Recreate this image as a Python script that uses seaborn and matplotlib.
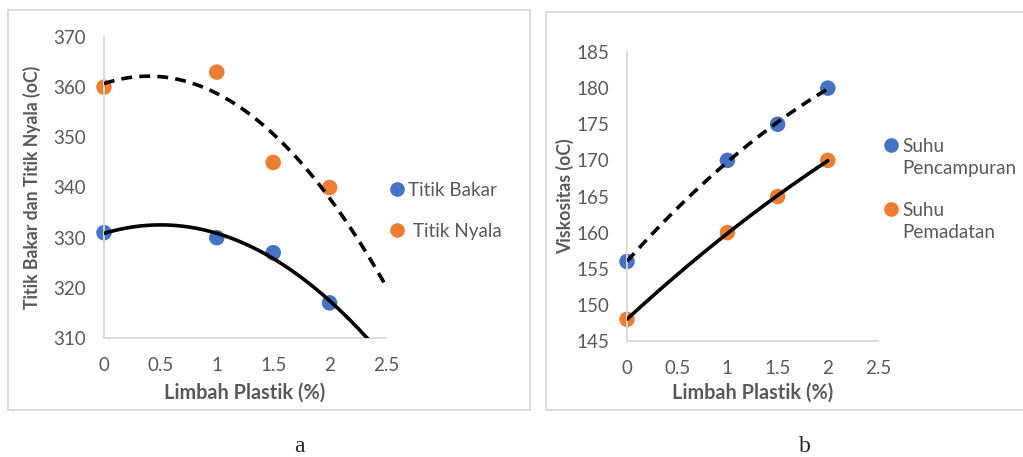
import numpy as np
import pandas as pd
import matplotlib
matplotlib.use('Agg')
import matplotlib.pyplot as plt
from matplotlib.patches import Rectangle
from matplotlib.lines import Line2D
import seaborn as sns

# Data
limbah = [0, 1, 1.5, 2]
titik_bakar = [331, 330, 327, 317]
titik_nyala = [360, 363, 345, 340]
suhu_pencampuran = [156, 170, 175, 180]
suhu_pemadatan = [148, 160, 165, 170]

x_ticks = [0, 0.5, 1, 1.5, 2, 2.5]
x_labels = ['0', '0.5', '1', '1.5', '2', '2.5']
y_ticks_a = [310, 320, 330, 340, 350, 360, 370]
y_ticks_b = [145, 150, 155, 160, 165, 170, 175, 180, 185]

BLUE = '#4472C4'
ORANGE = '#ED7D31'
GRID = '#D9D9D9'
TXT = '#595959'

sns.set_style('white')
plt.rcParams['font.family'] = ['Lato', 'DejaVu Sans']

W, H = 1023, 457
fig = plt.figure(figsize=(W / 100, H / 100), dpi=100)


def px_axes(x0, x1, y0, y1):
    # pixel box -> figure fraction
    return fig.add_axes([x0 / W, 1 - y1 / H, (x1 - x0) / W, (y1 - y0) / H])


# chart frames (Excel style)
for (x0, y0, x1, y1) in [(8, 10, 530, 410), (546, 12, 1030, 410)]:
    fig.patches.append(Rectangle((x0 / W, 1 - y1 / H), (x1 - x0) / W, (y1 - y0) / H,
                                 transform=fig.transFigure, fill=False,
                                 edgecolor=GRID, linewidth=1.3))


def style(ax, yticks, ylabel, ylab_x, xlab_y, ylab_size):
    ax.set_xlim(0, 2.5)
    ax.set_ylim(yticks[0], yticks[-1])
    ax.set_xticks(x_ticks)
    ax.set_xticklabels(x_labels)
    ax.set_yticks(yticks)
    ax.tick_params(axis='x', length=0, labelsize=13.5, labelcolor=TXT, pad=14)
    ax.tick_params(axis='y', length=0, labelsize=13.5, labelcolor=TXT, pad=13)
    for s in ['top', 'right']:
        ax.spines[s].set_visible(False)
    for s in ['left', 'bottom']:
        ax.spines[s].set_color(GRID)
        ax.spines[s].set_linewidth(1.3)
    ax.set_xlabel('Limbah Plastik (%)', fontsize=14.3, fontweight='bold', color=TXT)
    ax.set_ylabel(ylabel, fontsize=ylab_size, fontweight='bold', color=TXT)
    ax.xaxis.set_label_coords(0.5, xlab_y)
    ax.yaxis.set_label_coords(ylab_x, 0.5)
    ax.set_facecolor('none')
    if ax.get_legend() is not None:
        ax.get_legend().remove()


def trend(ax, x, y, x_end, ls):
    # Excel polynomial (order 2) trendline
    c = np.polyfit(x, y, 2)
    xs = np.linspace(0, x_end, 200)
    ax.plot(xs, np.polyval(c, xs), color='black', linestyle=ls, linewidth=2.6, zorder=3)


def legend_entry(px, py, color, text):
    fig.add_artist(Line2D([px / W], [1 - py / H], marker='o', markersize=9.5,
                          color=color, linestyle='none', transform=fig.transFigure))
    fig.text((px + 11) / W, 1 - (py - 7) / H, text, fontsize=13.6, color=TXT,
             ha='left', va='top', linespacing=1.38)


# Panel a
ax1 = px_axes(104, 386, 37, 338)
df_a = pd.DataFrame({'x': limbah * 2, 'y': titik_bakar + titik_nyala,
                     'seri': ['Titik Bakar'] * 4 + ['Titik Nyala'] * 4})
sns.scatterplot(data=df_a, x='x', y='y', hue='seri', palette=[BLUE, ORANGE],
                s=125, edgecolor='none', ax=ax1, zorder=2, clip_on=False)
trend(ax1, limbah, titik_bakar, 2.5, '-')
trend(ax1, limbah, titik_nyala, 2.5, (0, (3, 2)))
style(ax1, y_ticks_a, 'Titik Bakar dan Titik Nyala (oC)', -0.222, -0.15, 12.7)
legend_entry(397, 189, BLUE, 'Titik Bakar')
legend_entry(397, 230, ORANGE, ' Titik Nyala')

# Panel b
ax2 = px_axes(627, 878, 52, 341)
df_b = pd.DataFrame({'x': limbah * 2, 'y': suhu_pencampuran + suhu_pemadatan,
                     'seri': ['Suhu Pencampuran'] * 4 + ['Suhu Pemadatan'] * 4})
sns.scatterplot(data=df_b, x='x', y='y', hue='seri', palette=[BLUE, ORANGE],
                s=125, edgecolor='none', ax=ax2, zorder=2, clip_on=False)
trend(ax2, limbah, suhu_pencampuran, 2, (0, (3, 2)))
trend(ax2, limbah, suhu_pemadatan, 2, '-')
style(ax2, y_ticks_b, 'Viskositas (oC)', -0.21, -0.145, 12.7)
legend_entry(891, 145, BLUE, 'Suhu\nPencampuran')
legend_entry(891, 209, ORANGE, 'Suhu\nPemadatan')

fig.text(299 / W, 1 - 447 / H, 'a', fontsize=17, family='Liberation Serif', ha='center', va='center')
fig.text(805 / W, 1 - 447 / H, 'b', fontsize=17, family='Liberation Serif', ha='center', va='center')

fig.savefig('out.png', dpi=100)
